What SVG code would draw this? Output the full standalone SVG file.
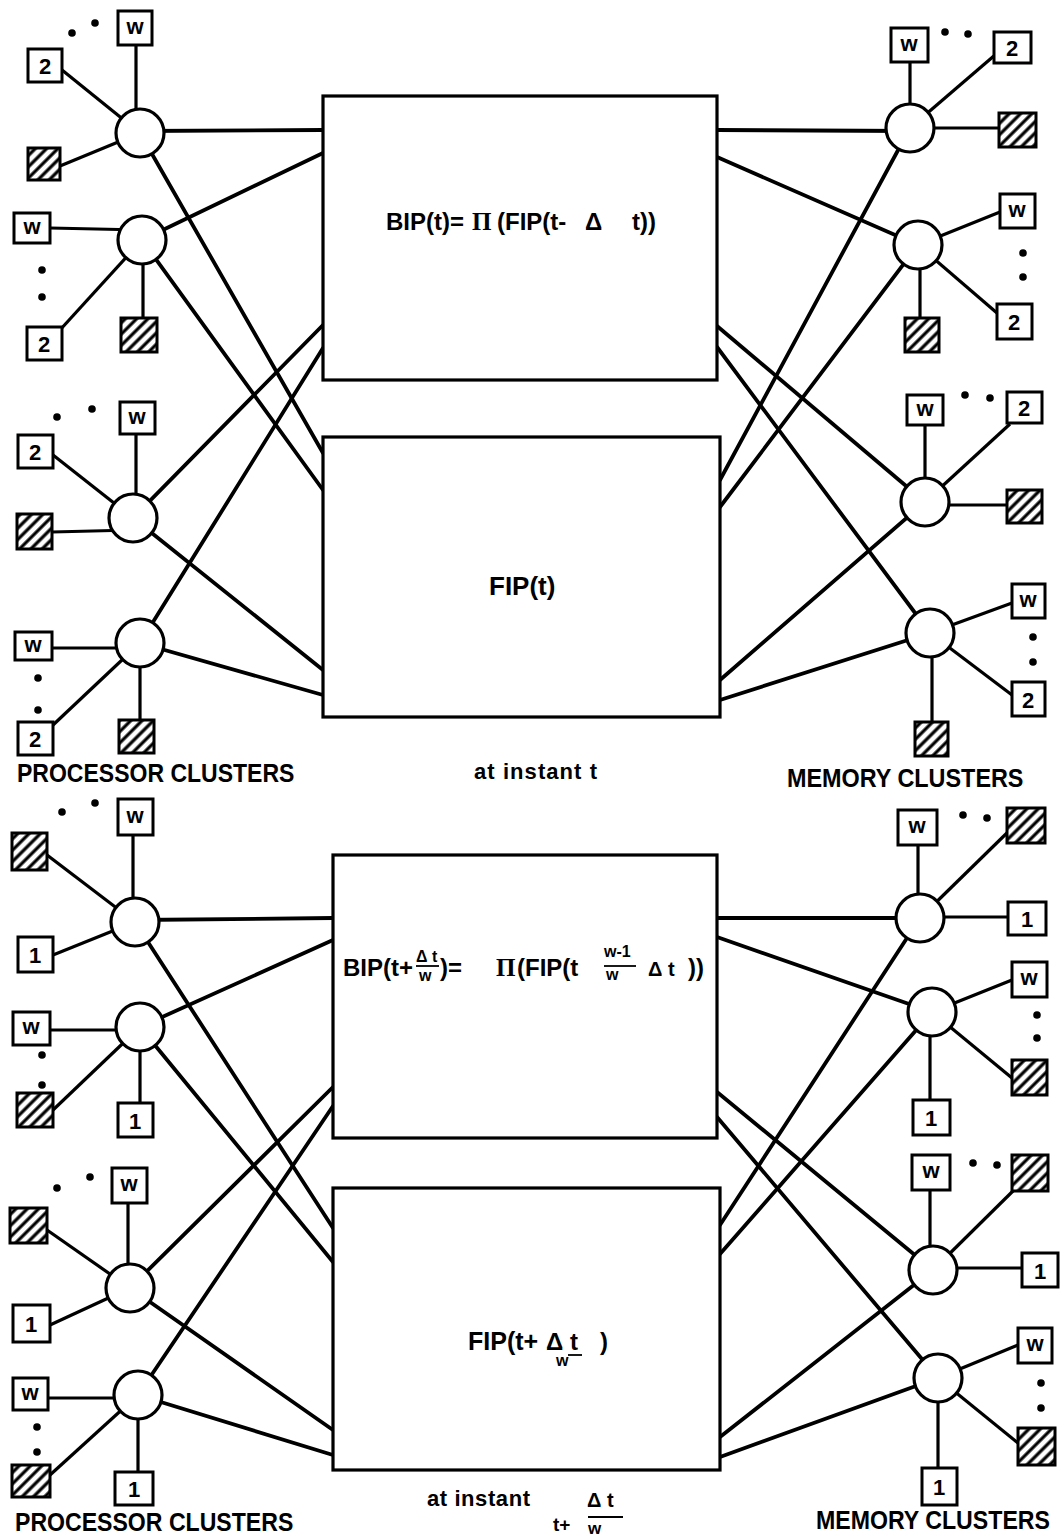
<svg xmlns="http://www.w3.org/2000/svg" width="1060" height="1540" viewBox="0 0 1060 1540">
<defs>
<pattern id="hatch" width="8" height="8" patternUnits="userSpaceOnUse" patternTransform="rotate(45)">
<rect width="8" height="8" fill="#fff"/>
<line x1="2" y1="0" x2="2" y2="8" stroke="#000" stroke-width="3.2"/>
</pattern>
</defs>
<style>
.ln{stroke:#000;stroke-width:3.8;fill:none;stroke-linecap:round}
.lk{stroke:#000;stroke-width:3.2;fill:none}
.box{fill:#fff;stroke:#000;stroke-width:3.2}
.cir{fill:#fff;stroke:#000;stroke-width:3.2}
.sq{fill:#fff;stroke:#000;stroke-width:3}
.hs{fill:url(#hatch);stroke:#000;stroke-width:3}
.lb{font-family:"Liberation Sans",Arial,sans-serif;font-weight:bold;font-size:22px;text-anchor:middle}
.f{font-family:"Liberation Sans",Arial,sans-serif;font-weight:bold;font-size:24px}
.fs{font-family:"Liberation Sans",Arial,sans-serif;font-weight:bold;font-size:16px}
.pi{font-family:"Liberation Serif","Times New Roman",serif;font-weight:bold;font-size:25px}
.cap{font-family:"Liberation Sans",Arial,sans-serif;font-weight:bold;font-size:26px}
.bar{stroke:#000;stroke-width:1.8}
.dot{fill:#000}
</style>
<g id="connectors">
<line class="ln" x1="140" y1="131" x2="323" y2="130"/>
<line class="ln" x1="142" y1="240" x2="323" y2="153"/>
<line class="ln" x1="133" y1="518" x2="323" y2="325"/>
<line class="ln" x1="140" y1="643" x2="323" y2="348"/>
<line class="ln" x1="140" y1="133" x2="323" y2="453"/>
<line class="ln" x1="142" y1="240" x2="323" y2="490"/>
<line class="ln" x1="133" y1="518" x2="323" y2="670"/>
<line class="ln" x1="140" y1="643" x2="323" y2="695"/>
<line class="ln" x1="910" y1="131" x2="717" y2="130"/>
<line class="ln" x1="918" y1="245" x2="717" y2="157"/>
<line class="ln" x1="925" y1="502" x2="717" y2="326"/>
<line class="ln" x1="930" y1="633" x2="717" y2="347"/>
<line class="ln" x1="910" y1="128" x2="720" y2="480"/>
<line class="ln" x1="918" y1="245" x2="720" y2="507"/>
<line class="ln" x1="925" y1="502" x2="720" y2="680"/>
<line class="ln" x1="930" y1="633" x2="720" y2="700"/>
<line class="ln" x1="135" y1="920" x2="333" y2="918"/>
<line class="ln" x1="140" y1="1027" x2="333" y2="940"/>
<line class="ln" x1="130" y1="1288" x2="333" y2="1087"/>
<line class="ln" x1="138" y1="1395" x2="333" y2="1106"/>
<line class="ln" x1="135" y1="922" x2="333" y2="1228"/>
<line class="ln" x1="140" y1="1027" x2="333" y2="1262"/>
<line class="ln" x1="130" y1="1288" x2="333" y2="1430"/>
<line class="ln" x1="138" y1="1395" x2="333" y2="1455"/>
<line class="ln" x1="920" y1="918" x2="717" y2="918"/>
<line class="ln" x1="932" y1="1012" x2="717" y2="937"/>
<line class="ln" x1="933" y1="1270" x2="717" y2="1092"/>
<line class="ln" x1="938" y1="1378" x2="717" y2="1117"/>
<line class="ln" x1="920" y1="918" x2="720" y2="1225"/>
<line class="ln" x1="932" y1="1012" x2="720" y2="1254"/>
<line class="ln" x1="933" y1="1270" x2="720" y2="1437"/>
<line class="ln" x1="938" y1="1378" x2="720" y2="1457"/>
<line class="lk" x1="136" y1="133" x2="136" y2="45"/>
<line class="lk" x1="140" y1="133" x2="62" y2="70"/>
<line class="lk" x1="140" y1="133" x2="60" y2="166"/>
<line class="lk" x1="142" y1="230" x2="50" y2="228"/>
<line class="lk" x1="142" y1="240" x2="60" y2="330"/>
<line class="lk" x1="143" y1="240" x2="143" y2="318"/>
<line class="lk" x1="136" y1="518" x2="136" y2="434"/>
<line class="lk" x1="133" y1="518" x2="53" y2="455"/>
<line class="lk" x1="133" y1="530" x2="52" y2="532"/>
<line class="lk" x1="140" y1="648" x2="52" y2="648"/>
<line class="lk" x1="140" y1="643" x2="53" y2="725"/>
<line class="lk" x1="140" y1="643" x2="140" y2="720"/>
<line class="lk" x1="910" y1="128" x2="910" y2="62"/>
<line class="lk" x1="910" y1="128" x2="995" y2="55"/>
<line class="lk" x1="910" y1="128" x2="998" y2="128"/>
<line class="lk" x1="918" y1="245" x2="1000" y2="212"/>
<line class="lk" x1="918" y1="245" x2="997" y2="313"/>
<line class="lk" x1="920" y1="245" x2="920" y2="318"/>
<line class="lk" x1="925" y1="502" x2="925" y2="425"/>
<line class="lk" x1="925" y1="502" x2="1010" y2="424"/>
<line class="lk" x1="925" y1="505" x2="1007" y2="505"/>
<line class="lk" x1="930" y1="633" x2="1012" y2="603"/>
<line class="lk" x1="930" y1="633" x2="1012" y2="695"/>
<line class="lk" x1="932" y1="633" x2="932" y2="722"/>
<line class="lk" x1="133" y1="922" x2="133" y2="835"/>
<line class="lk" x1="135" y1="922" x2="47" y2="855"/>
<line class="lk" x1="135" y1="922" x2="53" y2="955"/>
<line class="lk" x1="140" y1="1030" x2="50" y2="1030"/>
<line class="lk" x1="140" y1="1027" x2="53" y2="1110"/>
<line class="lk" x1="140" y1="1027" x2="140" y2="1103"/>
<line class="lk" x1="128" y1="1288" x2="128" y2="1203"/>
<line class="lk" x1="130" y1="1288" x2="47" y2="1230"/>
<line class="lk" x1="130" y1="1288" x2="50" y2="1325"/>
<line class="lk" x1="138" y1="1398" x2="48" y2="1398"/>
<line class="lk" x1="138" y1="1395" x2="50" y2="1475"/>
<line class="lk" x1="138" y1="1395" x2="138" y2="1472"/>
<line class="lk" x1="918" y1="918" x2="918" y2="845"/>
<line class="lk" x1="920" y1="918" x2="1010" y2="830"/>
<line class="lk" x1="920" y1="917" x2="1008" y2="917"/>
<line class="lk" x1="932" y1="1012" x2="1012" y2="980"/>
<line class="lk" x1="932" y1="1012" x2="1012" y2="1078"/>
<line class="lk" x1="930" y1="1012" x2="930" y2="1100"/>
<line class="lk" x1="930" y1="1270" x2="930" y2="1190"/>
<line class="lk" x1="933" y1="1270" x2="1014" y2="1190"/>
<line class="lk" x1="933" y1="1268" x2="1022" y2="1268"/>
<line class="lk" x1="938" y1="1378" x2="1018" y2="1345"/>
<line class="lk" x1="938" y1="1378" x2="1018" y2="1443"/>
<line class="lk" x1="938" y1="1378" x2="938" y2="1468"/>
</g>

<g id="box-bip-t">
<rect class="box" x="323" y="96" width="394" height="284"/>
<text class="f" x="386" y="230">BIP(t)=</text>
<text class="pi" x="472" y="230">Π</text>
<text class="f" x="497" y="230">(FIP(t-</text>
<text class="f" x="585" y="230">Δ</text>
<text class="f" x="632" y="230">t))</text>
</g>
<g id="box-fip-t">
<rect class="box" x="323" y="437" width="397" height="280"/>
<text class="f" x="489" y="595" style="font-size:26px">FIP(t)</text>
</g>
<g id="box-bip-tw">
<rect class="box" x="333" y="855" width="384" height="283"/>
<text class="f" x="343" y="976">BIP(t+</text>
<text class="fs" x="416" y="962">Δ t</text>
<line class="bar" x1="416" y1="966" x2="439" y2="966"/>
<text class="fs" x="419" y="981">w</text>
<text class="f" x="440" y="976">)=</text>
<text class="pi" x="496" y="976">Π</text>
<text class="f" x="517" y="976">(FIP(t</text>
<text class="fs" x="604" y="957">w-1</text>
<line class="bar" x1="604" y1="966" x2="636" y2="966"/>
<text class="fs" x="606" y="980">w</text>
<text class="f" x="648" y="976" style="font-size:20px">Δ t</text>
<text class="f" x="688" y="976">))</text>
</g>
<g id="box-fip-tw">
<rect class="box" x="333" y="1188" width="387" height="282"/>
<text class="f" x="468" y="1350" style="font-size:25px">FIP(t+</text>
<text class="f" x="546" y="1350">Δ t</text>
<text class="fs" x="556" y="1366">w</text>
<line class="bar" x1="568" y1="1355" x2="582" y2="1355"/>
<text class="f" x="600" y="1350">)</text>
</g>

<g id="proc-a">
<circle class="cir" cx="140" cy="133" r="24"/>
<rect class="sq" x="118" y="11" width="34" height="34"/><text class="lb" x="135" y="34">w</text>
<rect class="sq" x="28" y="49" width="34" height="33"/><text class="lb" x="45" y="74">2</text>
<rect class="hs" x="28" y="148" width="32" height="32"/>
<circle class="dot" cx="72" cy="33" r="3.8"/><circle class="dot" cx="95" cy="23" r="3.8"/>
</g>
<g id="proc-b">
<circle class="cir" cx="142" cy="240" r="24"/>
<rect class="sq" x="14" y="213" width="36" height="30"/><text class="lb" x="32" y="234">w</text>
<rect class="sq" x="27" y="327" width="35" height="33"/><text class="lb" x="44" y="352">2</text>
<rect class="hs" x="121" y="318" width="36" height="34"/>
<circle class="dot" cx="42" cy="270" r="3.8"/><circle class="dot" cx="42" cy="297" r="3.8"/>
</g>
<g id="proc-c">
<circle class="cir" cx="133" cy="518" r="24"/>
<rect class="sq" x="120" y="402" width="35" height="32"/><text class="lb" x="137" y="424">w</text>
<rect class="sq" x="18" y="435" width="35" height="33"/><text class="lb" x="35" y="460">2</text>
<rect class="hs" x="17" y="514" width="35" height="35"/>
<circle class="dot" cx="57" cy="417" r="3.8"/><circle class="dot" cx="92" cy="409" r="3.8"/>
</g>
<g id="proc-d">
<circle class="cir" cx="140" cy="643" r="24"/>
<rect class="sq" x="15" y="632" width="37" height="28"/><text class="lb" x="33" y="652">w</text>
<rect class="sq" x="18" y="722" width="35" height="33"/><text class="lb" x="35" y="747">2</text>
<rect class="hs" x="119" y="720" width="35" height="33"/>
<circle class="dot" cx="38" cy="678" r="3.8"/><circle class="dot" cx="38" cy="710" r="3.8"/>
</g>
<g id="mem-e">
<circle class="cir" cx="910" cy="128" r="24"/>
<rect class="sq" x="891" y="28" width="37" height="34"/><text class="lb" x="909" y="51">w</text>
<rect class="sq" x="994" y="32" width="37" height="31"/><text class="lb" x="1012" y="56">2</text>
<rect class="hs" x="999" y="113" width="37" height="34"/>
<circle class="dot" cx="945" cy="32" r="3.8"/><circle class="dot" cx="968" cy="34" r="3.8"/>
</g>
<g id="mem-f">
<circle class="cir" cx="918" cy="245" r="24"/>
<rect class="sq" x="1000" y="194" width="35" height="34"/><text class="lb" x="1017" y="217">w</text>
<rect class="sq" x="997" y="304" width="35" height="35"/><text class="lb" x="1014" y="330">2</text>
<rect class="hs" x="905" y="318" width="34" height="34"/>
<circle class="dot" cx="1023" cy="253" r="3.8"/><circle class="dot" cx="1023" cy="277" r="3.8"/>
</g>
<g id="mem-g">
<circle class="cir" cx="925" cy="502" r="24"/>
<rect class="sq" x="907" y="395" width="36" height="30"/><text class="lb" x="925" y="416">w</text>
<rect class="sq" x="1007" y="392" width="35" height="31"/><text class="lb" x="1024" y="416">2</text>
<rect class="hs" x="1007" y="490" width="35" height="33"/>
<circle class="dot" cx="965" cy="395" r="3.8"/><circle class="dot" cx="990" cy="398" r="3.8"/>
</g>
<g id="mem-h">
<circle class="cir" cx="930" cy="633" r="24"/>
<rect class="sq" x="1012" y="584" width="33" height="34"/><text class="lb" x="1028" y="607">w</text>
<rect class="sq" x="1012" y="682" width="33" height="34"/><text class="lb" x="1028" y="708">2</text>
<rect class="hs" x="915" y="722" width="33" height="34"/>
<circle class="dot" cx="1033" cy="637" r="3.8"/><circle class="dot" cx="1033" cy="662" r="3.8"/>
</g>
<g id="proc-i">
<circle class="cir" cx="135" cy="922" r="24"/>
<rect class="sq" x="118" y="799" width="35" height="36"/><text class="lb" x="135" y="823">w</text>
<rect class="hs" x="12" y="833" width="35" height="37"/>
<rect class="sq" x="18" y="937" width="35" height="35"/><text class="lb" x="35" y="963">1</text>
<circle class="dot" cx="62" cy="812" r="3.8"/><circle class="dot" cx="95" cy="803" r="3.8"/>
</g>
<g id="proc-j">
<circle class="cir" cx="140" cy="1027" r="24"/>
<rect class="sq" x="13" y="1012" width="37" height="33"/><text class="lb" x="31" y="1034">w</text>
<rect class="hs" x="17" y="1093" width="36" height="34"/>
<rect class="sq" x="118" y="1103" width="35" height="34"/><text class="lb" x="135" y="1129">1</text>
<circle class="dot" cx="42" cy="1055" r="3.8"/><circle class="dot" cx="42" cy="1085" r="3.8"/>
</g>
<g id="proc-k">
<circle class="cir" cx="130" cy="1288" r="24"/>
<rect class="sq" x="112" y="1168" width="35" height="35"/><text class="lb" x="129" y="1191">w</text>
<rect class="hs" x="10" y="1208" width="37" height="35"/>
<rect class="sq" x="13" y="1305" width="37" height="37"/><text class="lb" x="31" y="1332">1</text>
<circle class="dot" cx="57" cy="1188" r="3.8"/><circle class="dot" cx="90" cy="1177" r="3.8"/>
</g>
<g id="proc-l">
<circle class="cir" cx="138" cy="1395" r="24"/>
<rect class="sq" x="13" y="1378" width="35" height="32"/><text class="lb" x="30" y="1400">w</text>
<rect class="hs" x="12" y="1465" width="38" height="32"/>
<rect class="sq" x="115" y="1472" width="38" height="33"/><text class="lb" x="134" y="1497">1</text>
<circle class="dot" cx="37" cy="1427" r="3.8"/><circle class="dot" cx="37" cy="1452" r="3.8"/>
</g>
<g id="mem-m">
<circle class="cir" cx="920" cy="918" r="24"/>
<rect class="sq" x="898" y="810" width="39" height="35"/><text class="lb" x="917" y="833">w</text>
<rect class="hs" x="1007" y="808" width="38" height="35"/>
<rect class="sq" x="1008" y="902" width="38" height="33"/><text class="lb" x="1027" y="927">1</text>
<circle class="dot" cx="963" cy="815" r="3.8"/><circle class="dot" cx="987" cy="818" r="3.8"/>
</g>
<g id="mem-n">
<circle class="cir" cx="932" cy="1012" r="24"/>
<rect class="sq" x="1012" y="962" width="35" height="35"/><text class="lb" x="1029" y="985">w</text>
<rect class="hs" x="1012" y="1060" width="35" height="35"/>
<rect class="sq" x="913" y="1100" width="37" height="35"/><text class="lb" x="931" y="1126">1</text>
<circle class="dot" cx="1037" cy="1015" r="3.8"/><circle class="dot" cx="1037" cy="1038" r="3.8"/>
</g>
<g id="mem-o">
<circle class="cir" cx="933" cy="1270" r="24"/>
<rect class="sq" x="912" y="1155" width="38" height="35"/><text class="lb" x="931" y="1178">w</text>
<rect class="hs" x="1012" y="1155" width="36" height="36"/>
<rect class="sq" x="1022" y="1253" width="36" height="34"/><text class="lb" x="1040" y="1279">1</text>
<circle class="dot" cx="973" cy="1163" r="3.8"/><circle class="dot" cx="997" cy="1165" r="3.8"/>
</g>
<g id="mem-p">
<circle class="cir" cx="938" cy="1378" r="24"/>
<rect class="sq" x="1018" y="1328" width="34" height="35"/><text class="lb" x="1035" y="1351">w</text>
<rect class="hs" x="1018" y="1428" width="37" height="37"/>
<rect class="sq" x="922" y="1468" width="35" height="37"/><text class="lb" x="939" y="1495">1</text>
<circle class="dot" cx="1041" cy="1383" r="3.8"/><circle class="dot" cx="1041" cy="1408" r="3.8"/>
</g>

<g id="captions">
<text class="cap" transform="translate(17,782) scale(0.885,1)">PROCESSOR CLUSTERS</text>
<text class="cap" transform="translate(787,787) scale(0.9,1)">MEMORY CLUSTERS</text>
<text class="f" x="474" y="779" textLength="123" lengthAdjust="spacing" style="font-size:22px">at instant t</text>
<text class="cap" transform="translate(15,1531) scale(0.888,1)">PROCESSOR CLUSTERS</text>
<text class="cap" transform="translate(816,1529) scale(0.89,1)">MEMORY CLUSTERS</text>
<text class="f" x="427" y="1506" textLength="103" lengthAdjust="spacing" style="font-size:22px">at instant</text>
<text class="f" x="553" y="1531" style="font-size:19px">t+</text>
<text class="f" x="587" y="1507" style="font-size:20px">Δ t</text>
<line class="bar" x1="588" y1="1517" x2="623" y2="1517"/>
<text class="fs" x="588" y="1534" style="font-size:17px">w</text>
</g>
</svg>
